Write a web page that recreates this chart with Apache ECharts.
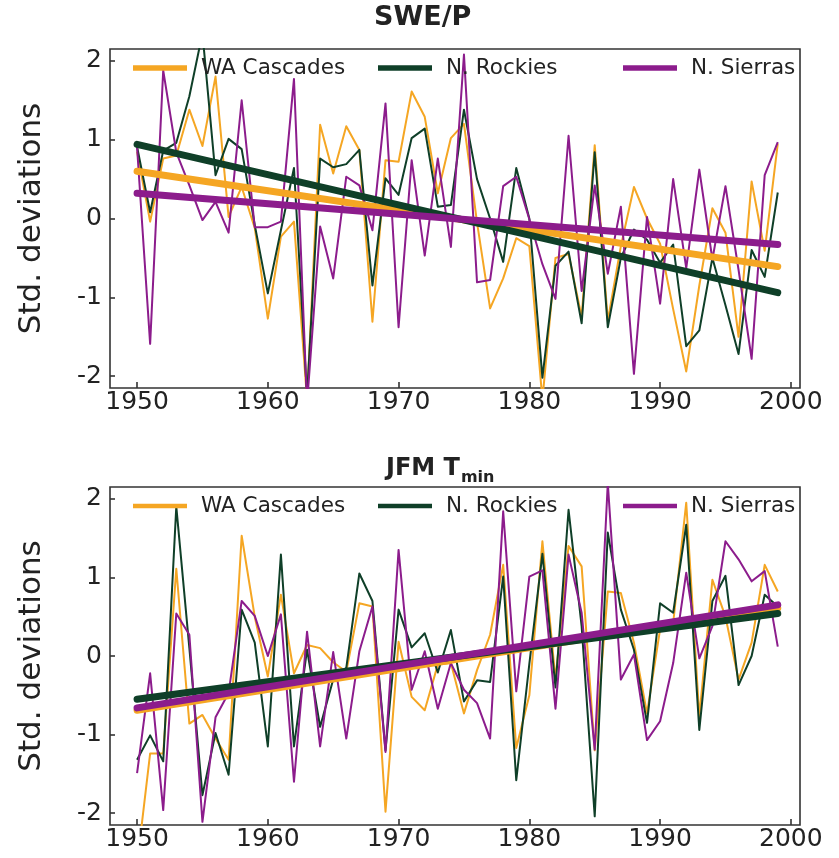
<!DOCTYPE html>
<html>
<head>
<meta charset="utf-8">
<script src="https://cdn.jsdelivr.net/npm/echarts@6/dist/echarts.min.js"></script>
<style>
  html, body { margin: 0; padding: 0; background: #ffffff; }
  #chart { width: 839px; height: 858px; }
</style>
</head>
<body>
<div id="chart"></div>
<script>
// Water years on the x axis
const years = [1950,1951,1952,1953,1954,1955,1956,1957,1958,1959,
               1960,1961,1962,1963,1964,1965,1966,1967,1968,1969,
               1970,1971,1972,1973,1974,1975,1976,1977,1978,1979,
               1980,1981,1982,1983,1984,1985,1986,1987,1988,1989,
               1990,1991,1992,1993,1994,1995,1996,1997,1998,1999];
const xTicks = [1950, 1960, 1970, 1980, 1990, 2000];
const yTicks = [-2, -1, 0, 1, 2];
const regionNames = ['WA Cascades', 'N. Rockies', 'N. Sierras'];

// SWE/P anomalies (standard deviations)
const swe_cascades = [0.85,-0.04,0.76,0.80,1.38,0.92,1.80,0.02,0.40,-0.12,
                      -1.27,-0.23,-0.04,-2.30,1.19,0.57,1.17,0.87,-1.31,0.74,
                      0.72,1.61,1.29,0.32,1.02,1.20,-0.05,-1.14,-0.76,-0.25,
                      -0.35,-2.30,-0.50,-0.45,-1.25,0.93,-1.30,-0.35,0.40,0.00,
                      -0.32,-1.15,-1.94,-0.85,0.13,-0.18,-1.50,0.47,-0.41,0.95];
const swe_rockies  = [0.91,0.08,0.86,0.96,1.55,2.35,0.55,1.01,0.88,-0.08,
                      -0.95,-0.15,0.64,-2.25,0.76,0.65,0.69,0.87,-0.85,0.51,
                      0.30,1.02,1.14,0.15,0.17,1.38,0.50,0.00,-0.55,0.64,
                      0.00,-2.02,-0.60,-0.42,-1.33,0.84,-1.38,-0.50,-0.14,-0.27,
                      -0.56,-0.33,-1.62,-1.42,-0.50,-1.10,-1.72,-0.40,-0.74,0.33];
const swe_sierras  = [0.90,-1.59,1.88,0.84,0.42,-0.02,0.21,-0.18,1.50,-0.11,
                      -0.11,-0.04,1.77,-2.35,-0.10,-0.76,0.53,0.42,-0.15,1.46,
                      -1.38,0.74,-0.47,0.76,-0.36,2.08,-0.81,-0.78,0.41,0.53,
                      -0.01,-0.58,-1.02,1.05,-0.92,0.42,-0.70,0.15,-1.97,0.02,
                      -1.08,0.50,-0.63,0.62,-0.52,0.41,-0.65,-1.78,0.55,0.97];
// Linear trend, value at first and last year
const swe_trend_cascades = [0.60, -0.61];
const swe_trend_rockies  = [0.94, -0.94];
const swe_trend_sierras  = [0.32, -0.33];

// JFM minimum temperature anomalies (standard deviations)
const tmin_cascades = [-2.65,-1.24,-1.24,1.11,-0.86,-0.75,-1.05,-1.32,1.53,0.50,
                       -0.26,0.78,-0.22,0.14,0.10,-0.08,-0.20,0.67,0.63,-1.98,
                       0.18,-0.52,-0.69,-0.11,-0.09,-0.73,-0.18,0.27,1.16,-1.17,
                       -0.50,1.46,-0.30,1.40,1.14,-1.20,0.82,0.80,0.17,-0.73,
                       0.34,0.42,1.95,-0.77,0.97,0.50,-0.30,0.17,1.16,0.82];
const tmin_rockies  = [-1.32,-1.01,-1.34,1.90,0.10,-1.77,-0.98,-1.51,0.59,0.17,
                       -1.15,1.29,-1.15,0.08,-0.90,-0.30,-0.15,1.05,0.70,-1.20,
                       0.59,0.11,0.29,-0.21,0.33,-0.58,-0.31,-0.33,1.01,-1.58,
                       -0.10,1.30,-0.40,1.86,0.38,-2.04,1.57,0.59,0.08,-0.85,
                       0.67,0.55,1.67,-0.94,0.70,1.02,-0.37,0.00,0.78,0.63];
const tmin_sierras  = [-1.49,-0.22,-1.96,0.54,0.27,-2.11,-0.78,-0.47,0.70,0.51,
                       0.00,0.53,-1.60,0.31,-1.15,0.05,-1.05,0.06,0.63,-1.22,
                       1.35,-0.43,0.06,-0.67,-0.09,-0.43,-0.60,-1.05,1.84,-0.45,
                       1.01,1.09,-0.67,1.29,0.55,-1.19,2.20,-0.30,0.02,-1.07,
                       -0.83,-0.09,1.06,-0.03,0.38,1.46,1.23,0.95,1.08,0.12];
const tmin_trend_cascades = [-0.69, 0.61];
const tmin_trend_rockies  = [-0.55, 0.54];
const tmin_trend_sierras  = [-0.66, 0.65];

const colors = { 'WA Cascades': '#F5A623', 'N. Rockies': '#0F3F28', 'N. Sierras': '#8C1C8C' };
const FONT = 'DejaVu Sans';
const TEXT = '#222222';

const panels = [
  { top: 49,  height: 339, values: [swe_cascades, swe_rockies, swe_sierras],
    trends: [swe_trend_cascades, swe_trend_rockies, swe_trend_sierras] },
  { top: 487, height: 338, values: [tmin_cascades, tmin_rockies, tmin_sierras],
    trends: [tmin_trend_cascades, tmin_trend_rockies, tmin_trend_sierras] }
];

const grids = [], xAxes = [], yAxes = [], series = [], legends = [];
const legendLefts = [133, 378, 623];
const legendTops = [57, 495];

panels.forEach((p, gi) => {
  grids.push({ left: 110, top: p.top, width: 690, height: p.height,
               show: true, borderColor: '#333333', borderWidth: 1.6,
               backgroundColor: 'transparent' });
  xAxes.push({
    type: 'value', gridIndex: gi, min: 1947.93, max: 2000.7,
    axisLine: { show: false, onZero: false },
    splitLine: { show: false },
    axisTick: { show: true, inside: true, length: 6, customValues: xTicks,
                lineStyle: { color: '#333333', width: 1.6 } },
    axisLabel: { customValues: xTicks, margin: 2, fontFamily: FONT, fontSize: 25, color: TEXT,
                 formatter: v => String(v) }
  });
  yAxes.push({
    type: 'value', gridIndex: gi, min: -2.15, max: 2.15,
    name: 'Std. deviations', nameLocation: 'middle', nameGap: 63,
    nameTextStyle: { fontFamily: FONT, fontSize: 31, color: TEXT },
    axisLine: { show: false, onZero: false },
    splitLine: { show: false },
    axisTick: { show: true, inside: true, length: 5, customValues: yTicks,
                lineStyle: { color: '#333333', width: 1.6 } },
    axisLabel: { customValues: yTicks, margin: 8, fontFamily: FONT, fontSize: 25, color: TEXT }
  });
  regionNames.forEach((name, k) => {
    series.push({
      type: 'line', name: name, xAxisIndex: gi, yAxisIndex: gi,
      data: years.map((y, i) => [y, p.values[k][i]]),
      symbol: 'none', clip: true, z: 2,
      lineStyle: { width: 2, color: colors[name], join: 'round' },
      itemStyle: { color: colors[name] }
    });
  });
  regionNames.forEach((name, k) => {
    series.push({
      type: 'line', name: name + ' trend', xAxisIndex: gi, yAxisIndex: gi,
      data: [[years[0], p.trends[k][0]], [years[years.length - 1], p.trends[k][1]]],
      symbol: 'none', clip: true, z: 3,
      lineStyle: { width: 7, color: colors[name], cap: 'round' },
      itemStyle: { color: colors[name] }
    });
  });
  regionNames.forEach((name, k) => {
    legends.push({
      data: [name], left: legendLefts[k], top: legendTops[gi],
      orient: 'horizontal', icon: 'rect',
      itemWidth: 54, itemHeight: gi === 0 ? 5.5 : 4.5, padding: 0,
      selectedMode: false,
      textStyle: { fontFamily: FONT, fontSize: 21.5, color: TEXT, padding: [0, 0, 0, 9] }
    });
  });
});

const chart = echarts.init(document.getElementById('chart'), null, { renderer: 'canvas' });
chart.setOption({
  animation: false,
  backgroundColor: '#ffffff',
  title: [
    { text: 'SWE/P', left: 369, top: -1,
      textStyle: { fontFamily: FONT, fontWeight: 'bold', fontSize: 27, color: TEXT } },
    { text: '{m|JFM T}{s|min}', left: 381, top: 447,
      textStyle: { rich: {
        m: { fontFamily: FONT, fontWeight: 'bold', fontSize: 24, color: TEXT, lineHeight: 34 },
        s: { fontFamily: FONT, fontWeight: 'bold', fontSize: 16, color: TEXT, lineHeight: 34,
             verticalAlign: 'bottom', padding: [9, 0, 0, 1] }
      } } }
  ],
  legend: legends,
  grid: grids,
  xAxis: xAxes,
  yAxis: yAxes,
  series: series
});
</script>
</body>
</html>
